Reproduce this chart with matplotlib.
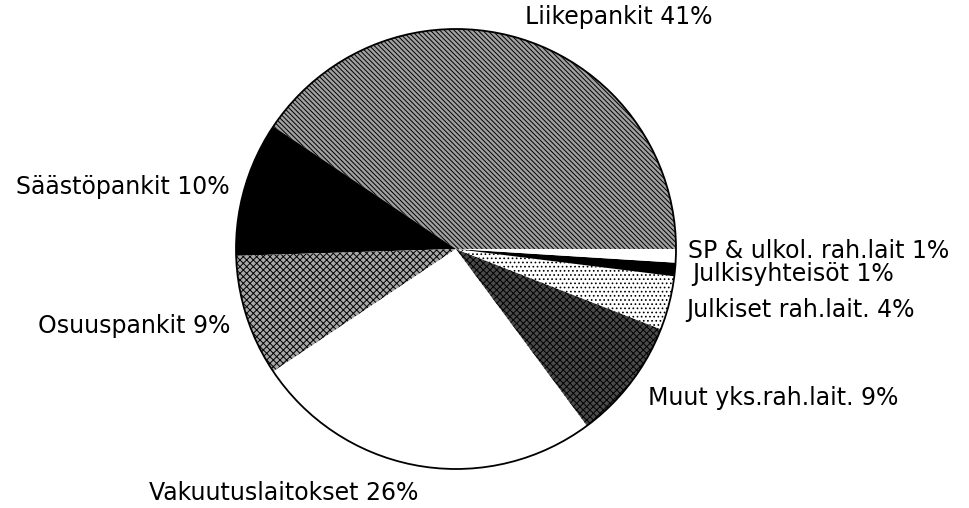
import matplotlib
matplotlib.use("Agg")
import matplotlib.pyplot as plt
from matplotlib.patches import Circle

labels = ["Liikepankit 41%", "Säästöpankit 10%", "Osuuspankit 9%",
          "Vakuutuslaitokset 26%", "Muut yks.rah.lait. 9%",
          "Julkiset rah.lait. 4%", "Julkisyhteisöt 1%",
          "SP & ulkol. rah.lait 1%"]
values = [41, 10, 9, 26, 9, 4, 1, 1]

facecolors = ["#a0a0a0", "black", "#a8a8a8", "white", "#4a4a4a", "white", "black", "white"]
hatches = ["\\\\\\\\\\\\\\", None, "xxxxx", None, "xxxxx", "....", None, None]

# label placement (pixel coords, y from top), alignment
label_pos = [(525, 17, "left"), (230, 187, "right"), (230, 326, "right"),
             (418, 493, "right"), (648, 398, "left"), (686, 310, "left"),
             (692, 274, "left"), (688, 251, "left")]

plt.rcParams["hatch.linewidth"] = 0.7
plt.rcParams["font.family"] = ["DejaVu Sans"]

W, H = 969, 508
fig = plt.figure(figsize=(W / 100, H / 100), dpi=100)
ax = fig.add_axes([0, 0, 1, 1])

cx, cy, r = 456, H - 249, 220
wedges, _ = ax.pie(values, startangle=0, counterclock=True, center=(cx, cy),
                   radius=r, colors=facecolors, frame=True,
                   wedgeprops=dict(edgecolor="black", linewidth=0))
for w, h in zip(wedges, hatches):
    if h:
        w.set_hatch(h)
ax.set_xlim(0, W)
ax.set_ylim(0, H)
ax.set_aspect("equal")
ax.axis("off")
ax.add_patch(Circle((cx, cy), r, fill=False, edgecolor="black", linewidth=1.3))

for text, (x, y, ha) in zip(labels, label_pos):
    ax.text(x, H - y, text, ha=ha, va="center", fontsize=17, color="black")

fig.savefig("out.png", dpi=100, facecolor="white")
